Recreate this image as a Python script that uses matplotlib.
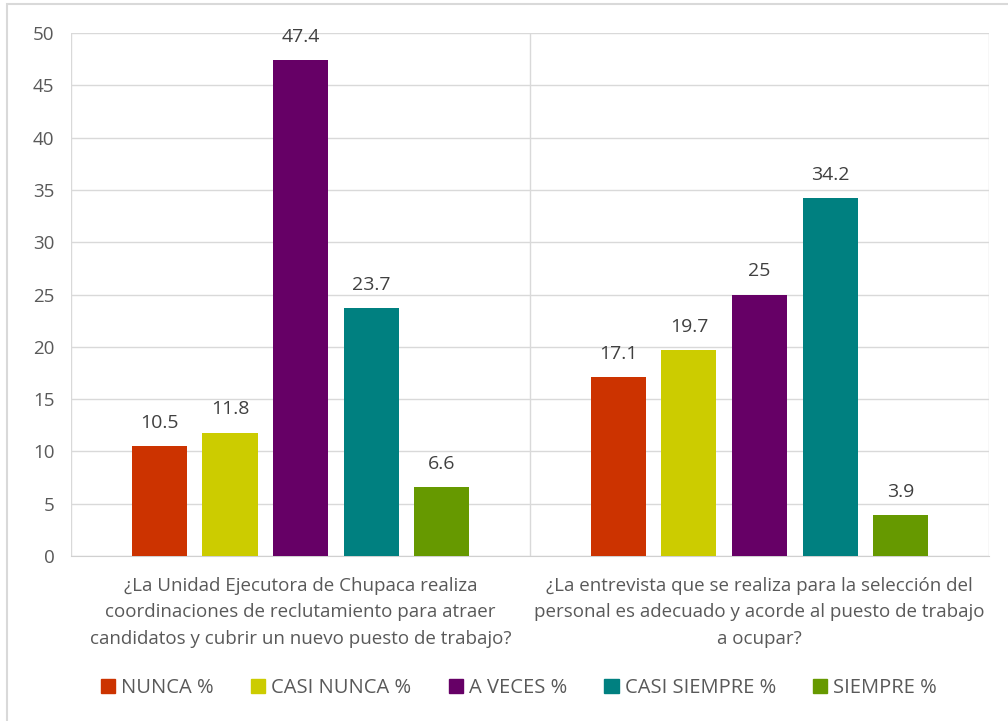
import matplotlib.pyplot as plt
import matplotlib.patches as mpatches
import numpy as np

categorias = [
    "¿La Unidad Ejecutora de Chupaca realiza\ncoordinaciones de reclutamiento para atraer\ncandidatos y cubrir un nuevo puesto de trabajo?",
    "¿La entrevista que se realiza para la selección del\npersonal es adecuado y acorde al puesto de trabajo\na ocupar?",
]
series = ["NUNCA %", "CASI NUNCA %", "A VECES %", "CASI SIEMPRE %", "SIEMPRE %"]
nunca = [10.5, 17.1]
casi_nunca = [11.8, 19.7]
a_veces = [47.4, 25]
casi_siempre = [23.7, 34.2]
siempre = [6.6, 3.9]
valores = [nunca, casi_nunca, a_veces, casi_siempre, siempre]
colores = ["#CC3300", "#CCCC00", "#660066", "#008080", "#669900"]

plt.rcParams['font.family'] = ['Open Sans', 'DejaVu Sans']
gris = "#595959"

fig = plt.figure(figsize=(10.08, 7.21), dpi=100)
ax = fig.add_axes([0.0705, 0.2288, 0.9107, 0.7254])

x = np.arange(len(categorias))
paso = 0.1538
ancho = 0.12
for i, (nombre, vals, col) in enumerate(zip(series, valores, colores)):
    pos = x + (i - 2) * paso
    barras = ax.bar(pos, vals, width=ancho, color=col, label=nombre, zorder=3)
    for b, v in zip(barras, vals):
        ax.text(b.get_x() + b.get_width() / 2, v + 1.35, f"{v:g}",
                ha='center', va='bottom', fontsize=14, color="#404040")

ax.set_xlim(-0.5, 1.5)
ax.set_ylim(0, 50)
ax.set_yticks(range(0, 51, 5))
ax.tick_params(axis='y', length=0, labelsize=13.5, labelcolor=gris, pad=12)
ax.tick_params(axis='x', length=0)
ax.set_xticks([])
ax.grid(axis='y', color="#D9D9D9", linewidth=1, zorder=0)
for xv in [-0.5, 0.5, 1.5]:
    ax.axvline(xv, color="#D9D9D9", linewidth=1, zorder=0)
for s in ['top', 'right', 'left']:
    ax.spines[s].set_visible(False)
ax.spines['bottom'].set_color("#D0D0D0")

for xi, cat in zip(x, categorias):
    ax.text(xi, -2.0, cat, ha='center', va='top', fontsize=13.5,
            color=gris, linespacing=1.6, transform=ax.transData)

handles = [mpatches.Patch(color=c, label=s) for s, c in zip(series, colores)]
fig.legend(handles=handles, loc='center', bbox_to_anchor=(0.515, 0.0458), ncol=5,
           frameon=False, fontsize=14.5, labelcolor=gris, handlelength=0.7,
           handleheight=0.7, handletextpad=0.3, columnspacing=1.85)

fig.patches.append(mpatches.Rectangle((0.007, -0.1), 1.2, 1.094, transform=fig.transFigure,
                                      fill=False, edgecolor="#D9D9D9", linewidth=1.5))

fig.savefig("out.png", dpi=100)
